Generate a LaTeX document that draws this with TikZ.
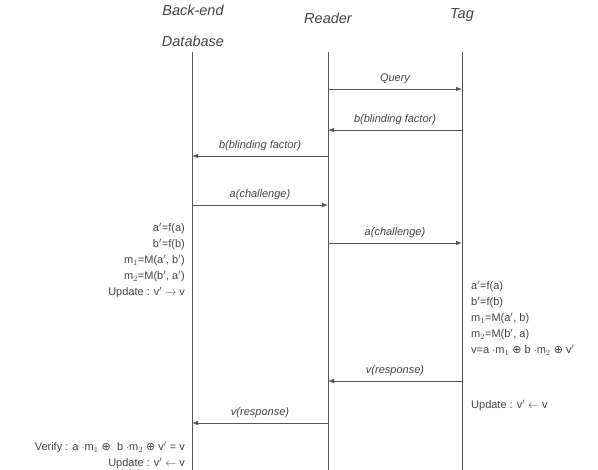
\documentclass[tikz,border=0pt]{standalone}
\usepackage{fontspec}
\setmainfont{Liberation Sans}
\newfontfamily\dvfont{DejaVu Sans}
\usetikzlibrary{arrows.meta}
\definecolor{txt}{HTML}{454545}
\definecolor{ln}{HTML}{555555}
\newcommand{\pr}{$^{\prime}$}
\newcommand{\xo}{{\dvfont ⊕}}
\begin{document}
\begin{tikzpicture}[x=1pt,y=-1pt,
  head/.style={font=\fontsize{14.5}{16}\selectfont\itshape, text=txt, inner sep=0pt},
  msg/.style={font=\fontsize{11}{12}\selectfont\itshape, text=txt, inner sep=0pt, above=5pt},
  calc/.style={font=\fontsize{11}{16}\selectfont, text=txt, inner sep=0pt, align=left},
  calcr/.style={font=\fontsize{11}{16}\selectfont, text=txt, inner sep=0pt, align=right},
  life/.style={draw=ln, line width=0.7pt},
  arr/.style={draw=ln, line width=0.8pt, -{Latex[length=6pt,width=4.5pt]}}]
\useasboundingbox (0,0) rectangle (598,470);
\fill[white] (0,0) rectangle (598,470);
% headers
\node[head] (hdb1) at (193,10) {Back-end};
\node[head] (hdb2) at (193,41) {Database};
\node[head] (hr) at (328,18) {Reader};
\node[head] (ht) at (462,15) {Tag};
% lifelines
\coordinate (d0) at (192,52); \coordinate (d1) at (192,470);
\coordinate (r0) at (328,52); \coordinate (r1) at (328,470);
\coordinate (t0) at (462,52); \coordinate (t1) at (462,470);
\draw[life] (d0) -- (d1);
\draw[life] (r0) -- (r1);
\draw[life] (t0) -- (t1);
% messages
\coordinate (r89) at (328,89); \coordinate (t89) at (462,89);
\draw[arr] (r89) -- node[msg] {Query} (t89);
\coordinate (t130) at (462,130); \coordinate (r130) at (328,130);
\draw[arr] (t130) -- node[msg] {b(blinding factor)} (r130);
\coordinate (r156) at (328,156); \coordinate (d156) at (192,156);
\draw[arr] (r156) -- node[msg] {b(blinding factor)} (d156);
\coordinate (d205) at (192,205); \coordinate (r205) at (328,205);
\draw[arr] (d205) -- node[msg] {a(challenge)} (r205);
\coordinate (r243) at (328,243); \coordinate (t243) at (462,243);
\draw[arr] (r243) -- node[msg] {a(challenge)} (t243);
\coordinate (t381) at (462,381); \coordinate (r381) at (328,381);
\draw[arr] (t381) -- node[msg] {v(response)} (r381);
\coordinate (r423) at (328,423); \coordinate (d423) at (192,423);
\draw[arr] (r423) -- node[msg] {v(response)} (d423);
% computations
\node[calcr, anchor=north east] (dbcalc) at (185,223) {a\pr=f(a)\\b\pr=f(b)\\m$_1$=M(a\pr, b\pr)\\m$_2$=M(b\pr, a\pr)\\Update : v\pr\ $\rightarrow$ v};
\node[calc, anchor=north west] (tagcalc) at (471,281) {a\pr=f(a)\\b\pr=f(b)\\m$_1$=M(a\pr, b)\\m$_2$=M(b\pr, a)\\v=a $\cdot$m$_1$ \xo\ b $\cdot$m$_2$ \xo\ v\pr};
\node[calc, anchor=west] (tagupd) at (471,405) {Update : v\pr\ $\leftarrow$ v};
\node[calcr, anchor=north east] (dbver) at (185,442) {Verify : a $\cdot$m$_1$ \xo\ \ b $\cdot$m$_2$ \xo\ v\pr\ = v\\Update : v\pr\ $\leftarrow$ v};
\end{tikzpicture}
\end{document}
